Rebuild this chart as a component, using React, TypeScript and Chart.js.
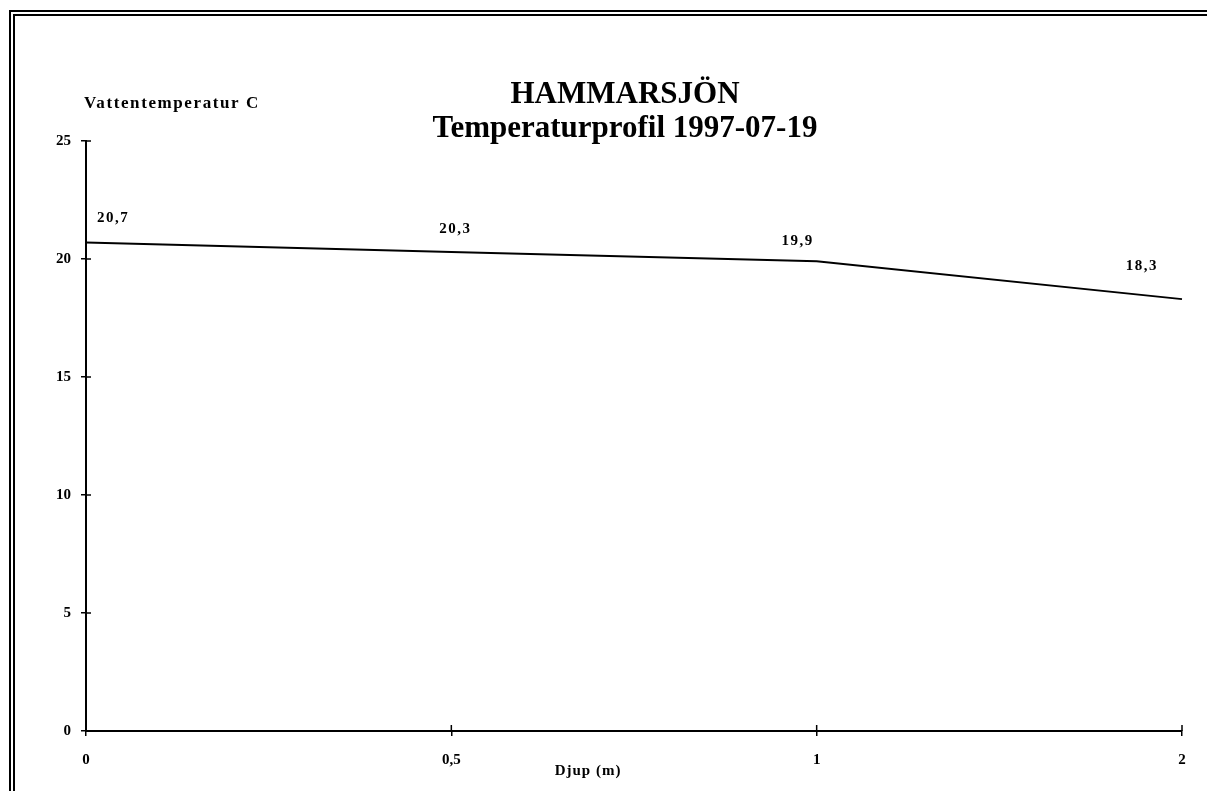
import React, { useEffect, useRef } from "react";
import { Chart, registerables } from "chart.js";

Chart.register(...registerables);

const depthLabels = ["0", "0,5", "1", "2"];
const temperatures = [20.7, 20.3, 19.9, 18.3];
const valueLabels = ["20,7", "20,3", "19,9", "18,3"];
const yMin = 0;
const yMax = 25;
const yStep = 5;
const titleLines = ["HAMMARSJÖN", "Temperaturprofil 1997-07-19"];
const yAxisTitle = "Vattentemperatur C";
const xAxisTitle = "Djup (m)";

const SERIF = "'Liberation Serif', 'Times New Roman', serif";

const extrasPlugin = {
  id: "extras",
  afterDraw(chart: any) {
    const ctx = chart.ctx;
    const area = chart.chartArea;
    const xs = chart.scales.x;
    const ys = chart.scales.y;
    ctx.save();
    ctx.fillStyle = "#000";
    ctx.strokeStyle = "#000";

    // inner halves of tick marks (ticks cross the axes)
    ctx.lineWidth = 1.5;
    ys.ticks.forEach((_t: any, i: number) => {
      const y = ys.getPixelForTick(i);
      ctx.beginPath();
      ctx.moveTo(area.left, y);
      ctx.lineTo(area.left + 5, y);
      ctx.stroke();
    });
    xs.ticks.forEach((_t: any, i: number) => {
      const x = xs.getPixelForTick(i);
      ctx.beginPath();
      ctx.moveTo(x, area.bottom);
      ctx.lineTo(x, area.bottom - 6);
      ctx.stroke();
    });

    // titles
    const cx = area.left + 539;
    ctx.textAlign = "center";
    ctx.textBaseline = "middle";
    ctx.font = `bold 31px ${SERIF}`;
    ctx.fillText(titleLines[0], cx, area.top - 46);
    ctx.fillText(titleLines[1], cx, area.top - 12);

    // y axis title (horizontal, above axis)
    ctx.textAlign = "left";
    ctx.font = `bold 17px ${SERIF}`;
    (ctx as any).letterSpacing = "1.6px";
    ctx.fillText(yAxisTitle, area.left - 2, area.top - 37);

    // x axis title
    (ctx as any).letterSpacing = "1px";
    ctx.textAlign = "center";
    ctx.font = `bold 15px ${SERIF}`;
    ctx.fillText(xAxisTitle, area.left + 502, area.bottom + 40);

    // data labels (placed above their points, nudged as in the original)
    const labelNudgeX = [11, 4, -19, -24];
    const labelNudgeY = [-24, -23, -20, -33];
    ctx.font = `bold 15px ${SERIF}`;
    (ctx as any).letterSpacing = "1.5px";
    const meta = chart.getDatasetMeta(0);
    meta.data.forEach((pt: any, i: number) => {
      const last = meta.data.length - 1;
      ctx.textAlign = i === 0 ? "left" : i === last ? "right" : "center";
      ctx.fillText(valueLabels[i], pt.x + labelNudgeX[i], pt.y + labelNudgeY[i]);
    });
    (ctx as any).letterSpacing = "0px";
    ctx.restore();
  },
};

export default function App() {
  const ref = useRef<HTMLCanvasElement | null>(null);

  useEffect(() => {
    if (!ref.current) return;
    const chart = new Chart(ref.current, {
      type: "line",
      data: {
        labels: depthLabels,
        datasets: [
          {
            data: temperatures,
            borderColor: "#000",
            borderWidth: 2,
            pointRadius: 0,
            tension: 0,
            fill: false,
          },
        ],
      },
      options: {
        responsive: false,
        animation: false,
        layout: { padding: { top: 141, right: 25, left: 0, bottom: 0 } },
        plugins: {
          legend: { display: false },
          title: { display: false },
          tooltip: { enabled: false },
        },
        scales: {
          x: {
            type: "category",
            offset: false,
            grid: {
              display: true,
              drawOnChartArea: false,
              drawTicks: true,
              tickLength: 5,
              color: "#000",
              lineWidth: 1.5,
            },
            border: { display: true, color: "#000", width: 2 },
            ticks: {
              color: "#000",
              font: { family: SERIF, size: 15, weight: "bold" },
              padding: 15,
              maxRotation: 0,
              autoSkip: false,
            },
            afterFit: (s: any) => {
              s.height = 60;
            },
          },
          y: {
            min: yMin,
            max: yMax,
            grid: {
              display: true,
              drawOnChartArea: false,
              drawTicks: true,
              tickLength: 5,
              color: "#000",
              lineWidth: 1.5,
            },
            border: { display: true, color: "#000", width: 2 },
            ticks: {
              stepSize: yStep,
              color: "#000",
              font: { family: SERIF, size: 15, weight: "bold" },
              padding: 10,
            },
            afterFit: (s: any) => {
              s.width = 86;
            },
          },
        },
      },
      plugins: [extrasPlugin],
    });
    return () => chart.destroy();
  }, []);

  return (
    <div
      style={{
        position: "fixed",
        left: 0,
        top: 0,
        width: 1207,
        height: 791,
        background: "#fff",
        overflow: "hidden",
      }}
    >
      <div
        style={{
          position: "absolute",
          left: 9,
          top: 10,
          width: 1400,
          height: 1000,
          borderLeft: "6px double #000",
          borderTop: "6px double #000",
        }}
      />
      <canvas
        ref={ref}
        width={1207}
        height={791}
        style={{ position: "absolute", left: 0, top: 0, width: 1207, height: 791 }}
      />
    </div>
  );
}
